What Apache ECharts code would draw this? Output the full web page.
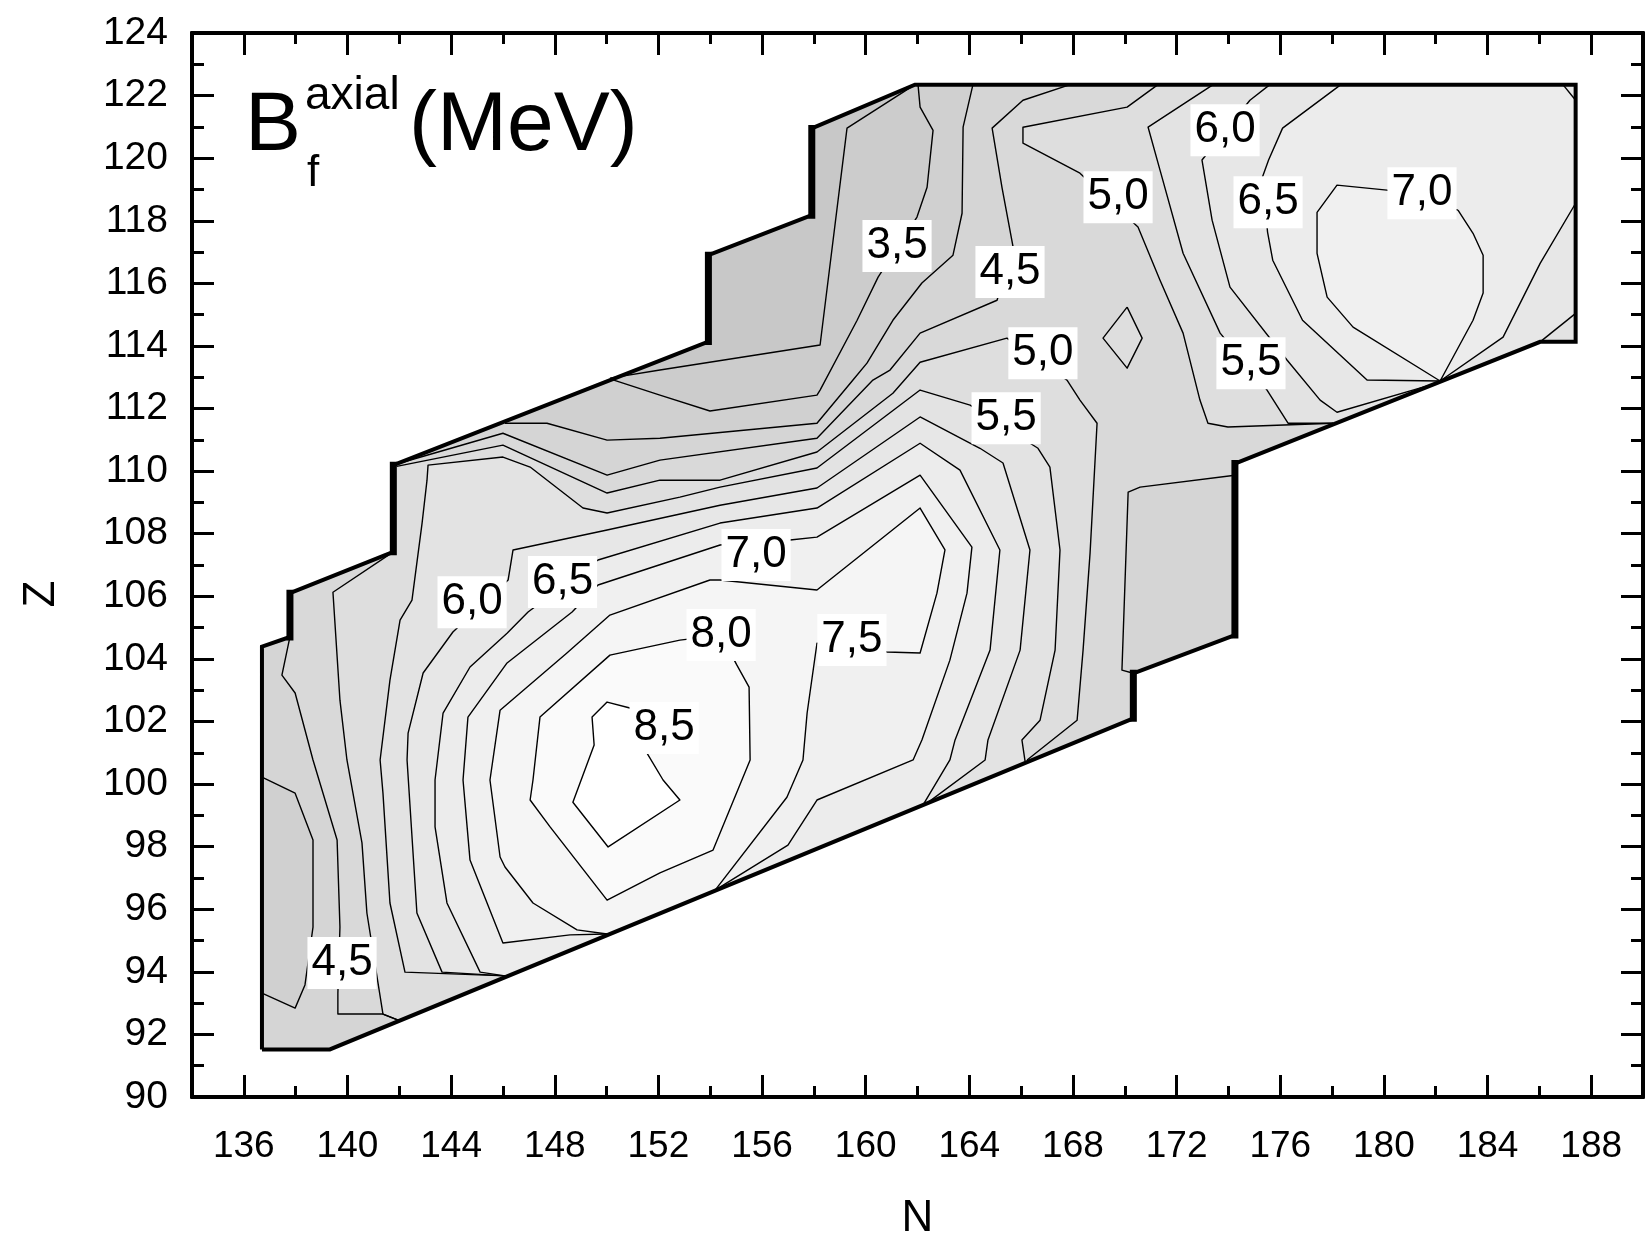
<!DOCTYPE html>
<html>
<head>
<meta charset="utf-8">
<title>Axial fission barrier map</title>
<script src="https://cdn.jsdelivr.net/npm/echarts@6.0.0/dist/echarts.min.js"></script>
<style>
  html, body { margin: 0; padding: 0; background: #fff; }
  #chart { width: 1648px; height: 1239px; }
</style>
</head>
<body>
<div id="chart"></div>
<script>
// ---------- axes ----------
const xRange = [134, 190];
const yRange = [90, 124];
const xMajorTicks = [136, 140, 144, 148, 152, 156, 160, 164, 168, 172, 176, 180, 184, 188];
const xMinorTicks = [138, 142, 146, 150, 154, 158, 162, 166, 170, 174, 178, 182, 186];

// ---------- outline of the computed nuclide region, [N, Z] ----------
const domainEdge = [
  [136.70, 91.52], [139.32, 91.52], [170.33, 102.10], [170.33, 103.54],
  [174.25, 104.76], [174.25, 110.24], [186.03, 114.13], [187.40, 114.13],
  [187.40, 122.35], [161.90, 122.35], [157.92, 120.95], [157.92, 118.18],
  [153.93, 116.90], [153.93, 114.14], [141.77, 110.19], [141.77, 107.42],
  [137.78, 106.10], [137.78, 104.70], [136.70, 104.39]
];

// ---------- iso-lines of B_f (MeV), [N, Z] ----------
const c30 = [[161.90,122.35],[159.28,120.96],[158.24,114.03],[152.06,113.23],[150.13,112.97]];
const c35 = [[162.02,122.35],[162.10,121.63],[162.60,120.89],[162.37,119.07],[161.98,118.12],[160.48,116.20],
  [159.67,114.82],[158.24,112.59],[158.12,112.43],[153.99,111.92],[152.06,112.43],[150.13,112.95]];
const c40 = [[164.14,122.35],[163.76,120.99],[163.72,118.24],[163.37,116.90],[162.17,116.01],[161.05,114.82],
  [160.05,113.45],[159.51,112.91],[158.12,111.53],[152.06,111.05],[150.02,110.99],[147.70,111.53],[146.08,111.53]];
const c40Left = [[136.70,100.22],[137.98,99.71],[138.67,98.21],[138.67,95.43],[138.36,93.58],[137.98,92.84],[136.70,93.32]];
const c45 = [[167.89,122.35],[166.07,121.85],[164.88,120.96],[165.26,119.07],[165.69,117.16],[165.07,115.46],
  [162.10,114.41],[160.94,113.23],[160.28,112.91],[158.12,111.05],[152.06,110.35],[150.02,109.87],[146.00,111.21],[142.03,110.26]];
const c45Left = [[137.78,104.70],[137.47,103.48],[137.98,102.91],[138.67,100.77],[139.60,98.21],[139.71,95.43],
  [139.63,93.32],[139.63,92.65],[141.37,92.65],[142.03,92.43]];
const c45Notch = [[174.25,109.87],[170.59,109.49],[170.13,109.33],[169.89,103.64],[170.33,103.54]];
const c50 = [[141.90,110.15],[146.00,110.83],[150.02,109.30],[152.06,109.71],[154.38,109.71],[158.12,110.61],
  [161.05,112.49],[162.10,113.48],[165.45,114.25],[167.77,112.91],[168.27,112.27],[168.93,111.53],[168.66,107.38],
  [168.39,104.28],[168.16,102.04],[166.23,100.77]];
const c50Left = [[141.77,107.42],[139.44,106.13],[139.71,102.68],[139.98,100.77],[140.56,98.12],[140.75,95.88],
  [141.37,92.65],[142.03,92.43]];
const c50Upper = [[171.28,122.35],[170.09,121.63],[166.07,120.99],[166.07,120.48],[168.27,119.52],[170.51,117.80],
  [171.36,116.10],[172.25,114.41],[172.90,112.27],[173.21,111.53],[173.98,111.41],[178.04,111.53]];
const c50Isle = [[170.09,115.24],[170.67,114.25],[170.09,113.29],[169.16,114.25],[170.09,115.24]];
const c55 = [[146.08,93.87],[142.22,93.99],[141.64,96.20],[141.37,99.71],[141.26,100.77],[141.64,103.32],
  [142.03,105.24],[142.49,105.88],[142.88,108.34],[143.07,109.71],[143.11,110.19],[146.00,110.45],[147.05,110.13],
  [149.09,108.82],[150.02,108.66],[152.83,109.17],[154.38,109.49],[158.12,110.10],[162.10,112.59],[164.03,112.11],
  [166.65,110.73],[167.11,110.13],[167.50,107.48],[167.31,104.28],[166.73,102.04],[166.03,101.41],[166.15,100.73]];
const c55Upper = [[173.41,122.35],[170.90,120.99],[171.36,119.62],[172.25,116.96],[173.68,114.41],[175.49,112.59],
  [176.30,111.53],[178.04,111.53]];
const c60 = [[146.08,93.87],[143.65,93.99],[142.68,95.88],[142.30,100.77],[142.34,101.63],[142.92,103.55],
  [144.07,104.86],[146.20,106.52],[146.39,107.48],[150.02,108.12],[154.38,108.91],[158.12,109.46],[162.10,111.73],
  [164.41,110.73],[165.30,110.26],[166.34,107.48],[165.96,104.28],[164.72,101.41],[164.61,100.77],[162.37,99.39]];
const c60Upper = [[175.60,122.35],[174.83,121.85],[172.98,119.94],[173.37,118.02],[174.06,115.88],[176.26,113.55],
  [177.54,112.27],[178.19,111.88],[181.78,112.75]];
const c60Corner = [[186.03,114.13],[187.40,115.04]];
const c65 = [[146.08,93.87],[145.12,93.99],[143.84,96.20],[143.38,98.63],[143.38,100.13],[143.69,102.27],
  [144.73,103.74],[146.16,104.82],[146.97,105.50],[149.67,107.16],[154.38,108.34],[158.12,108.82],[162.10,110.89],
  [163.64,110.03],[165.18,107.48],[164.80,104.28],[163.45,101.41],[163.25,100.77],[162.21,99.33]];
const c65Upper = [[178.34,122.35],[176.09,120.96],[175.55,119.94],[175.31,119.39],[175.51,117.64],[175.71,116.74],
  [176.86,114.82],[179.35,112.91],[182.17,112.88]];
const c65Right = [[187.40,118.56],[186.03,116.64],[184.60,114.28],[182.17,112.88]];
const c65Corner = [[186.91,122.35],[187.40,121.85]];
const c70 = [[150.02,95.21],[148.59,95.18],[146.00,94.92],[144.73,97.57],[144.46,100.13],[144.65,102.14],
  [146.16,103.87],[148.67,105.50],[149.67,106.36],[154.38,107.64],[157.08,107.80],[158.12,107.89],[162.10,109.87],
  [164.10,107.57],[163.91,106.10],[163.25,103.96],[162.17,101.41],[161.83,100.77],[158.12,99.49],[157.00,98.05],[154.19,96.61]];
const c70Right = [[182.86,118.34],[183.44,117.60],[183.83,116.90],[183.83,115.69],[183.44,114.82],[182.17,112.88],
  [178.81,114.60],[177.81,115.56],[177.42,116.96],[177.42,118.27],[178.19,119.14],[180.12,118.98],[182.86,118.34]];
const c75 = [[150.02,95.21],[148.86,95.34],[147.16,96.20],[146.08,97.35],[145.89,97.67],[145.50,100.13],
  [145.89,102.36],[148.47,104.19],[150.13,105.40],[153.99,106.52],[154.38,106.52],[158.12,106.20],[162.10,108.82],
  [163.06,107.48],[162.75,106.10],[162.10,104.19],[160.82,104.22],[158.12,104.50],[157.74,102.27],[157.58,100.77],
  [156.96,99.58],[154.19,96.61]];
const c80 = [[152.83,104.60],[150.13,104.12],[147.43,102.14],[147.16,100.13],[147.05,99.49],[147.82,98.63],
  [150.02,96.29],[152.06,97.16],[154.11,97.89],[155.54,100.77],[155.50,103.10],[155.03,103.80],[154.42,104.76],[152.83,104.60]];
const c85 = [[150.90,102.43],[150.02,102.62],[149.44,102.14],[149.52,101.25],[148.70,99.42],[150.06,97.99],
  [152.83,99.49],[152.18,100.13],[151.56,100.99],[152.22,101.79],[150.90,102.43]];

// every iso-line with its level
const isoLines = [
  [c30, 3.0], [c35, 3.5], [c40, 4.0], [c40Left, 4.0], [c45, 4.5], [c45Left, 4.5], [c45Notch, 4.5],
  [c50, 5.0], [c50Left, 5.0], [c50Upper, 5.0], [c50Isle, 5.0], [c55, 5.5], [c55Upper, 5.5],
  [c60, 6.0], [c60Upper, 6.0], [c60Corner, 6.0], [c65, 6.5], [c65Upper, 6.5], [c65Right, 6.5], [c65Corner, 6.5],
  [c70, 7.0], [c70Right, 7.0], [c75, 7.5], [c80, 8.0], [c85, 8.5]
];

// in-line level labels: [N, Z, level]
const isoLabels = [
  [161.21, 117.19, 3.5], [165.57, 116.36, 4.5], [169.74, 118.75, 5.0], [166.84, 113.77, 5.0],
  [165.42, 111.69, 5.5], [173.87, 120.89, 6.0], [175.53, 118.59, 6.5], [181.47, 118.88, 7.0],
  [174.87, 113.45, 5.5], [144.81, 105.81, 6.0], [148.30, 106.46, 6.5], [155.77, 107.32, 7.0],
  [154.42, 104.76, 8.0], [159.47, 104.60, 7.5], [152.22, 101.79, 8.5], [139.79, 94.28, 4.5]
];

// ---------- filled bands: region above each level, painted low to high ----------
const D = domainEdge;
const span = (a, b) => D.slice(a, b + 1);
const rev = a => a.slice().reverse();
const bands = [
  { level: null, ring: D },
  { level: 3.0, ring: [...c30, ...span(14, 18), ...span(0, 8)] },
  { level: 3.5, ring: [...c35, ...span(14, 18), ...span(0, 8)] },
  { level: 4.0, ring: [...c40, ...span(14, 18), ...span(0, 8)] },
  { level: 3.5, ring: c40Left },
  { level: 4.5, ring: [...c45, ...span(15, 16), ...c45Left, D[2], ...rev(c45Notch), ...span(5, 8)] },
  { level: 5.0, ring: [...c50, ...rev(c50Left), D[14]] },
  { level: 5.0, ring: [...c50Upper, ...span(6, 8)] },
  { level: 5.0, ring: c50Isle },
  { level: 5.5, ring: c55 },
  { level: 5.5, ring: [...c55Upper, ...span(6, 8)] },
  { level: 6.0, ring: c60 },
  { level: 6.0, ring: [...c60Upper, ...c60Corner, D[8]] },
  { level: 6.5, ring: c65 },
  { level: 6.5, ring: [...c65Upper, ...rev(c65Right), ...rev(c65Corner)] },
  { level: 7.0, ring: c70 },
  { level: 7.0, ring: c70Right },
  { level: 7.5, ring: c75 },
  { level: 8.0, ring: c80 },
  { level: 8.5, ring: c85 }
];

const grayRamp = [200, 204, 208, 213, 217, 222, 227, 231, 236, 240, 245, 250, 255];
function bandColor(level) {
  const i = level === null ? 0 : Math.round((level - 3) / 0.5) + 1;
  const g = grayRamp[Math.min(i, grayRamp.length - 1)];
  return 'rgb(' + g + ',' + g + ',' + g + ')';
}

// vertical steps of the outline are drawn heavier
const nMin = Math.min(...D.map(p => p[0]));
const nMax = Math.max(...D.map(p => p[0]));
const stepWalls = D.map((p, i) => [p, D[(i + 1) % D.length]])
  .filter(([a, b]) => a[0] === b[0] && a[0] > nMin && a[0] < nMax);

const FONT = '"Liberation Sans", Arial, Helvetica, sans-serif';
const ink = '#000';

function xAxisDef(position, ticks, len, withLabels) {
  return {
    type: 'value', position, min: xRange[0], max: xRange[1],
    axisLine: { show: true, onZero: false, lineStyle: { color: ink, width: 4 } },
    axisTick: { show: true, inside: true, length: len, customValues: ticks, lineStyle: { color: ink, width: 3 } },
    axisLabel: withLabels ? { show: true, customValues: ticks, color: ink, fontSize: 37, fontFamily: FONT, margin: 31 } : { show: false },
    splitLine: { show: false },
    name: withLabels ? 'N' : '', nameLocation: 'middle', nameGap: 100,
    nameTextStyle: { color: ink, fontSize: 44, fontFamily: FONT }
  };
}
function yAxisDef(position, withLabels) {
  return {
    type: 'value', position, min: yRange[0], max: yRange[1], interval: 2,
    axisLine: { show: true, onZero: false, lineStyle: { color: ink, width: 4 } },
    axisTick: { show: true, inside: true, length: 22, lineStyle: { color: ink, width: 3 } },
    minorTick: { show: true, splitNumber: 2, length: 12, lineStyle: { color: ink, width: 3 } },
    axisLabel: withLabels ? { show: true, color: ink, fontSize: 39, fontFamily: FONT, margin: 24 } : { show: false },
    splitLine: { show: false }, minorSplitLine: { show: false }
  };
}

const series = [];

// filled bands
series.push({
  type: 'custom', coordinateSystem: 'cartesian2d', xAxisIndex: 0, yAxisIndex: 0,
  silent: true, z: 1, animation: false,
  data: bands.map((b, i) => [b.ring[0][0], b.ring[0][1], i]),
  renderItem(params, api) {
    const b = bands[api.value(2)];
    return {
      type: 'polygon',
      shape: { points: b.ring.map(p => api.coord(p)) },
      style: { fill: bandColor(b.level), stroke: null }
    };
  }
});

// iso-lines
isoLines.forEach(([pts, level]) => {
  series.push({
    type: 'line', name: 'B_f = ' + level, data: pts, xAxisIndex: 0, yAxisIndex: 0,
    symbol: 'none', silent: true, z: 3, animation: false,
    lineStyle: { color: ink, width: 1.4, join: 'round' }
  });
});

// region outline
series.push({
  type: 'line', data: [...D, D[0]], xAxisIndex: 0, yAxisIndex: 0,
  symbol: 'none', silent: true, z: 5, animation: false,
  lineStyle: { color: ink, width: 4, join: 'miter' }
});
stepWalls.forEach(w => {
  series.push({
    type: 'line', data: w, xAxisIndex: 0, yAxisIndex: 0,
    symbol: 'none', silent: true, z: 5, animation: false,
    lineStyle: { color: ink, width: 7, cap: 'square' }
  });
});

// level labels with white boxes
series.push({
  type: 'custom', coordinateSystem: 'cartesian2d', xAxisIndex: 0, yAxisIndex: 0,
  silent: true, z: 8, animation: false,
  data: isoLabels,
  renderItem(params, api) {
    const p = api.coord([api.value(0), api.value(1)]);
    return {
      type: 'text', x: p[0], y: p[1],
      style: {
        text: api.value(2).toFixed(1).replace('.', ','),
        fontSize: 44, fontFamily: FONT, fill: ink,
        align: 'center', verticalAlign: 'middle',
        backgroundColor: '#fff', padding: [5, 4, 3, 4]
      }
    };
  }
});

const chart = echarts.init(document.getElementById('chart'), null, { renderer: 'canvas' });
chart.setOption({
  backgroundColor: '#fff',
  animation: false,
  grid: { left: 192, right: 5, top: 33, bottom: 142, containLabel: false, outerBoundsMode: 'none' },
  xAxis: [
    xAxisDef('bottom', xMajorTicks, 22, true),
    xAxisDef('bottom', xMinorTicks, 11, false),
    xAxisDef('top', xMajorTicks, 22, false),
    xAxisDef('top', xMinorTicks, 11, false)
  ],
  yAxis: [yAxisDef('left', true), yAxisDef('right', false)],
  graphic: [
    { type: 'text', x: 245, y: 127, z: 20, style: { text: 'B', fontSize: 84, fontFamily: FONT, fill: ink, align: 'left', verticalAlign: 'middle' } },
    { type: 'text', x: 305, y: 96, z: 20, style: { text: 'axial', fontSize: 46, fontFamily: FONT, fill: ink, align: 'left', verticalAlign: 'middle' } },
    { type: 'text', x: 307, y: 174, z: 20, style: { text: 'f', fontSize: 44, fontFamily: FONT, fill: ink, align: 'left', verticalAlign: 'middle' } },
    { type: 'text', x: 409, y: 127, z: 20, style: { text: '(MeV)', fontSize: 84, fontFamily: FONT, fill: ink, align: 'left', verticalAlign: 'middle' } },
    { type: 'text', x: 42, y: 594, rotation: Math.PI / 2, z: 20, style: { text: 'Z', fontSize: 44, fontFamily: FONT, fill: ink, align: 'center', verticalAlign: 'middle' } }
  ],
  series
});
</script>
</body>
</html>
